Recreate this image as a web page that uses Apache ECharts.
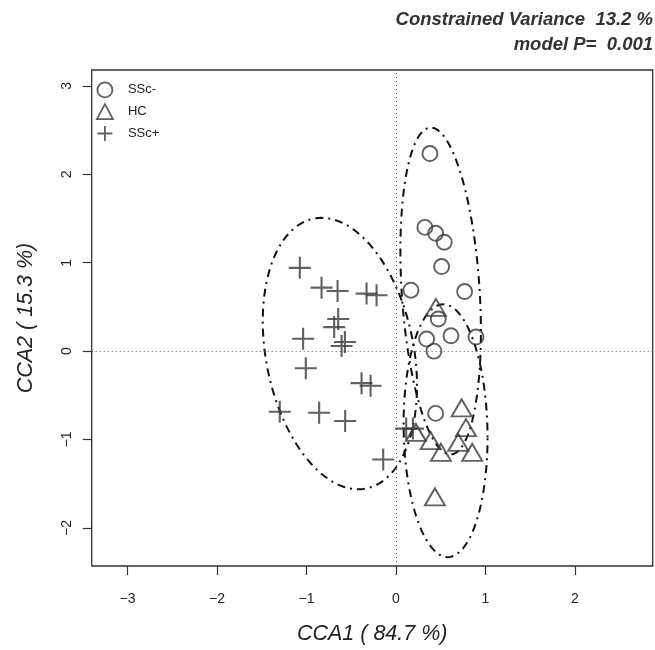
<!DOCTYPE html>
<html>
<head>
<meta charset="utf-8">
<script src="https://cdn.jsdelivr.net/npm/echarts@6/dist/echarts.min.js"></script>
<style>html,body{margin:0;padding:0;background:#fff}#c{width:655px;height:650px}</style>
</head>
<body>
<div id="c"></div>
<script>
// ---- data ----
const sscNegX = [0.380, 0.324, 0.444, 0.540, 0.511, 0.168, 0.768, 0.473, 0.343, 0.615, 0.895, 0.425, 0.444];
const sscNegY = [2.235, 1.400, 1.333, 1.232, 0.957, 0.689, 0.674, 0.364, 0.137, 0.174, 0.160, 0.000, -0.704];

const hcX = [0.447, 0.735, 0.783, 0.224, 0.388, 0.503, 0.697, 0.853, 0.436];
const hcY = [0.495, -0.641, -0.865, -0.920, -1.013, -1.144, -1.032, -1.144, -1.647];

const sscPosX = [-1.074, -0.831, -0.652, -0.328, -0.216, -0.645, -0.690, -0.570, -0.607, -1.037, -1.007, -0.384, -0.283, -1.298, -0.858, -0.567, -0.142, 0.115, 0.190];
const sscPosY = [0.942, 0.718, 0.681, 0.651, 0.632, 0.364, 0.272, 0.104, 0.059, 0.141, -0.194, -0.362, -0.391, -0.686, -0.697, -0.790, -1.226, -0.876, -0.876];

// ellipse parameters (centre and spread matrix) for SSc+, SSc-, HC
const ellNames = ['SSc+ ellipse', 'SSc- ellipse', 'HC ellipse'];
const ellCx = [-0.626, 0.50, 0.555];
const ellCy = [-0.027, 0.68, -0.90];
const ellSxx = [0.743, 0.2025, 0.22];
const ellSyy = [2.356, 3.42, 2.045];
const ellSxy = [-0.315, -0.2035, -0.036];

const xTicks = [-3, -2, -1, 0, 1, 2];
const yTicks = [-2, -1, 0, 1, 2, 3];
const xRange = [-3.40, 2.87];
const yRange = [-2.43, 3.18];

const titleLines = ['Constrained Variance  13.2 %', 'model P=  0.001'];
const xTitle = 'CCA1 ( 84.7 %)';
const yTitle = 'CCA2 ( 15.3 %)';
// ---------------------------------------

const FONT = '"Liberation Sans", Arial, Helvetica, sans-serif';
const INK = '#3a3a3a';
const zip = (a, b) => a.map((v, i) => [v, b[i]]);
const fmt = v => (v < 0 ? '\u2212' + Math.abs(v) : String(v));

function ellipsePts(k) {
  const a = Math.sqrt(ellSxx[k]);
  const c = ellSxy[k] / a;
  const d = Math.sqrt(ellSyy[k] - c * c);
  const pts = [];
  const n = 160;
  for (let i = 0; i <= n; i++) {
    const t = 2 * Math.PI * i / n;
    pts.push([ellCx[k] + a * Math.cos(t), ellCy[k] + c * Math.cos(t) + d * Math.sin(t)]);
  }
  return pts;
}

const plusPath = 'path://M10,0 L10,20 M0,10 L20,10';
const markStyle = { color: 'transparent', borderColor: INK, borderWidth: 1.9 };

const chart = echarts.init(document.getElementById('c'), null, { renderer: 'canvas' });

const series = [
  {
    name: 'SSc-', type: 'scatter', data: zip(sscNegX, sscNegY),
    symbol: 'circle', symbolSize: 15, itemStyle: markStyle, z: 5,
    markLine: {
      silent: true, symbol: 'none', label: { show: false },
      lineStyle: { color: '#555', width: 1, type: [1, 3] },
      data: [{ xAxis: 0 }, { yAxis: 0 }]
    }
  },
  {
    name: 'HC', type: 'scatter', data: zip(hcX, hcY),
    symbol: 'triangle', symbolSize: [20, 17], itemStyle: markStyle, z: 5
  },
  {
    name: 'SSc+', type: 'scatter', data: zip(sscPosX, sscPosY),
    symbol: plusPath, symbolSize: 22, itemStyle: { color: 'transparent', borderColor: INK, borderWidth: 2.1 }, z: 5
  }
];
ellNames.forEach((nm, k) => {
  series.push({
    name: nm, type: 'line', data: ellipsePts(k), showSymbol: false, silent: true,
    lineStyle: { color: '#111', width: 2, type: [2, 5, 8, 5] }, z: 4
  });
});

const titleStyle = { fontFamily: FONT, fontSize: 18.5, fontStyle: 'italic', fontWeight: 'bold', color: '#333' };

chart.setOption({
  animation: false,
  backgroundColor: '#fff',
  title: [
    { text: titleLines[0], right: -3, top: 5, textStyle: titleStyle },
    { text: titleLines[1], right: -3, top: 30, textStyle: titleStyle }
  ],
  legend: {
    orient: 'vertical', left: 96, top: 81.5, padding: 0, itemGap: 5, itemWidth: 16, itemHeight: 15,
    data: [
      { name: 'SSc-', icon: 'circle' },
      { name: 'HC', icon: 'triangle' },
      { name: 'SSc+', icon: plusPath }
    ],
    itemStyle: { color: 'transparent', borderColor: INK, borderWidth: 1.8 },
    textStyle: { fontFamily: FONT, fontSize: 13, color: '#222', padding: [0, 0, 0, 10] }
  },
  grid: {
    left: 91.7, right: 2.3, top: 70, bottom: 78, show: true,
    borderColor: '#333', borderWidth: 1.3, backgroundColor: 'transparent'
  },
  xAxis: {
    type: 'value', min: xRange[0], max: xRange[1],
    axisLine: { show: false, onZero: false },
    splitLine: { show: false },
    axisTick: { show: true, length: 9, inside: false, customValues: xTicks, lineStyle: { color: '#333', width: 1.2 } },
    axisLabel: { customValues: xTicks, formatter: fmt, margin: 26, fontFamily: FONT, fontSize: 14, color: '#222' },
    name: xTitle, nameLocation: 'middle', nameGap: 57,
    nameTextStyle: { fontFamily: FONT, fontSize: 21.5, fontStyle: 'italic', color: '#222' }
  },
  yAxis: {
    type: 'value', min: yRange[0], max: yRange[1],
    axisLine: { show: false, onZero: false },
    splitLine: { show: false },
    axisTick: { show: true, length: 9, inside: false, customValues: yTicks, lineStyle: { color: '#333', width: 1.2 } },
    axisLabel: { customValues: yTicks, formatter: fmt, rotate: 90, margin: 18, fontFamily: FONT, fontSize: 14, color: '#222' },
    name: yTitle, nameLocation: 'middle', nameGap: 55, nameRotate: 90,
    nameTextStyle: { fontFamily: FONT, fontSize: 21.5, fontStyle: 'italic', color: '#222' }
  },
  series: series
});
</script>
</body>
</html>
